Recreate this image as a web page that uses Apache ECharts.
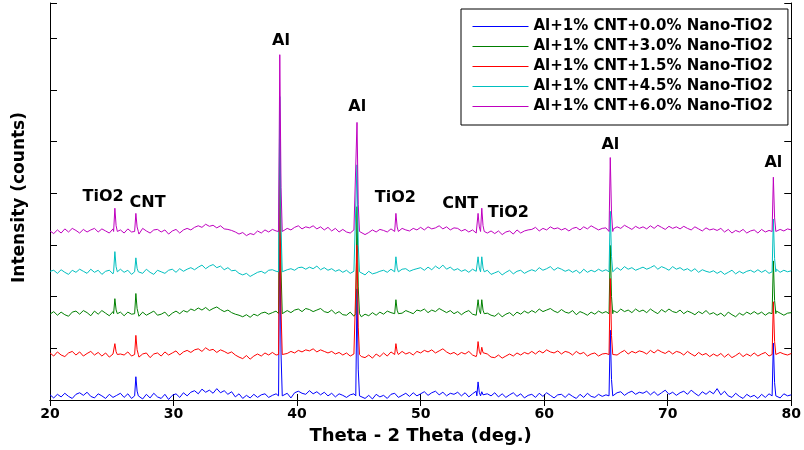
<!DOCTYPE html>
<html lang="en">

<head>
    <meta charset="UTF-8">
    <title>XRD</title>
    <style>
        html, body { margin: 0; padding: 0; background: #fff; }
        #main { width: 804px; height: 450px; }
    </style>
</head>

<body>
    <div id="main"></div>
    <script src="https://cdn.jsdelivr.net/npm/echarts@6/dist/echarts.min.js"></script>
    <script>
        // sample names, legend order (= draw order)
        const sampleNames = [
            "Al+1% CNT+0.0% Nano-TiO2",
            "Al+1% CNT+3.0% Nano-TiO2",
            "Al+1% CNT+1.5% Nano-TiO2",
            "Al+1% CNT+4.5% Nano-TiO2",
            "Al+1% CNT+6.0% Nano-TiO2"
        ];
        const sampleColors = ["#0000ff", "#008000", "#ff0000", "#00bfbf", "#bf00bf"];
        // vertical shift of each pattern (counts)
        const sampleOffsets = [8, 167, 88, 248, 326];

        // scan: 2theta from 20 to 80 deg, step 0.3
        const twoThetaStart = 20;
        const twoThetaStep = 0.3;

        // background (counts above the shifted baseline), one value per step
        const bgAl00 = [
            2, -4, 3, -2, 5, -1, -5, 3, 6, 1,
            7, -1, -4, 4, 0, -5, 3, -3, 1, 5,
            -3, 4, -5, 6, -1, -6, 3, -4, 5, -2,
            -5, 3, -7, 1, 4, -3, 6, 0, 7, 10,
            4, 13, 7, 11, 5, 14, 6, 10, 3, 8,
            -2, 4, -5, 1, -4, 3, -3, 2, 4, -3,
            1, 4, -2, 2, 5, -4, 6, 9, 5, 3,
            10, 4, 8, 2, 7, 0, 5, -2, 4, 1,
            -3, 2, 4, -3, 3, -5, 1, -6, 3, -2,
            1, -5, 3, 5, -3, 1, 5, -1, 6, 0,
            4, 8, 1, 6, 9, 2, 7, 0, 5, 3,
            7, 0, 6, -2, 4, 9, 5, -1, 4, 0,
            6, -2, 4, -3, 2, 6, -1, 4, -4, 1,
            3, -3, 5, -1, 6, 1, -4, 2, 3, -3,
            4, -1, -5, 3, -3, 5, -1, -3, 3, -1,
            2, 5, -1, 6, 8, 1, 6, 9, 3, 7,
            5, 9, 2, 8, 1, 6, 11, 3, 7, 1,
            6, 9, 3, 11, 5, 0, 8, 3, 9, 4,
            14, 2, 9, 0, -3, 5, -1, -5, 3, -2,
            1, -5, 3, -3, 4, -1, 2, -4, 4, 0,
            2
        ];
        const bgAl30 = [
            -1, 4, -3, 3, -2, -5, 3, 5, -1, 6,
            2, -4, 5, -1, 6, 1, -4, 4, -2, 3,
            -4, 3, -1, 5, -5, 3, -3, 1, 5, -3,
            -1, 3, -5, 1, 5, 0, 6, 3, 9, 6,
            11, 7, 12, 6, 10, 13, 8, 4, 7, 2,
            -1, -3, -6, -2, -7, -1, -4, 1, 3, -1,
            2, 5, -1, 3, 6, 2, 7, 9, 4, 10,
            8, 4, 7, 10, 4, 2, 7, 0, 4, -2,
            -3, 3, -5, 1, -6, -1, -4, 2, -3, 3,
            -1, 5, 2, -2, 5, 1, 6, 3, 0, 7,
            5, 9, 2, 7, 4, 10, 6, 2, 6, 0,
            4, -2, 3, 6, -1, -3, 3, -5, 1, -3,
            -5, 1, -6, -1, 2, -4, 3, -1, 5, 1,
            6, 2, 9, 4, 7, 10, 5, 2, 8, 3,
            1, 6, -2, 4, 1, -3, 3, -1, 5, 1,
            4, 0, 6, 2, 9, 4, 7, 2, 9, 4,
            7, 2, 9, 4, 0, 8, 3, 9, 4, 2,
            7, 0, 5, 2, -2, 4, 0, 6, -1, 2,
            -3, 1, -5, 3, -2, -6, 1, -3, 3, -1,
            4, -1, 3, -3, 2, -1, 5, 1, -3, 1,
            2
        ];
        const bgAl15 = [
            3, -3, 5, -1, -4, 3, 6, -1, 5, -3,
            2, 6, -1, 4, -3, 3, -5, 1, 5, 1,
            -1, 5, -3, 3, -5, 1, 3, -6, 1, 3,
            -3, 5, -1, 3, 7, -1, 5, 8, 4, 9,
            11, 6, 13, 8, 10, 4, 9, 6, 2, 5,
            -1, -5, -8, -2, -9, -3, 1, -3, 3, -1,
            4, -1, 3, -3, 2, 6, 3, 8, 5, 9,
            7, 11, 5, 9, 6, 3, 6, 1, 4, -1,
            3, -3, 1, 4, -4, -6, -1, -7, 1, -4,
            3, -3, 5, -1, 3, 6, 1, 4, -1, 6,
            3, 8, 5, 9, 3, 7, 11, 5, 1, 4,
            -1, 4, 1, 6, -1, -4, 3, -3, 1, -5,
            -6, -1, -7, -3, 1, -3, 3, -1, 4, 1,
            6, 1, 7, 3, 9, 5, 3, 7, 1, 6,
            4, -1, 6, 1, 4, -3, 1, 3, -3, 1,
            2, 6, 3, -1, 4, 8, 1, 6, 3, 7,
            5, 1, 8, 3, 9, 5, 2, 7, 1, 6,
            4, -1, 6, 1, -3, 4, -1, 2, -4, 1,
            -3, 2, -5, 1, -6, -2, 3, -4, 1, -3,
            3, -3, 1, 4, -3, 2, -1, 4, 1, -1,
            2
        ];
        const bgAl45 = [
            1, 3, -3, 4, -1, -5, 3, -1, 5, 1,
            -3, 5, -1, 3, -5, 1, 3, -4, 1, 5,
            -1, 3, -5, 3, -1, -3, 5, -1, -5, 3,
            0, -3, 3, 5, -1, 6, 1, 5, 8, 4,
            9, 13, 6, 11, 14, 8, 11, 4, 8, 2,
            3, -3, -6, -3, -9, -5, -1, 1, -3, 3,
            4, 1, -2, 3, 4, 6, 3, 8, 9, 5,
            9, 6, 11, 4, 8, 3, 6, 1, 4, -1,
            3, -3, 1, -5, -1, -6, 1, -4, -2, 1,
            3, -1, 5, 1, -2, 5, 6, 1, 4, 6,
            8, 3, 9, 4, 11, 6, 13, 5, 9, 3,
            6, 1, 4, -1, 5, 1, -3, 1, 3, -5,
            -2, 1, -6, -1, 3, -4, 1, 3, -3, 1,
            4, 1, 8, 3, 6, 10, 3, 8, 5, 1,
            4, -1, 3, -3, 5, -1, 3, 0, 5, 1,
            4, 6, 1, 8, 3, 10, 5, 8, 3, 6,
            9, 5, 8, 12, 5, 10, 7, 3, 10, 5,
            8, 3, 6, 1, 6, -1, 4, 1, -1, 2,
            -3, 1, -5, -1, 3, -4, 1, -3, 1, 3,
            -1, 4, -1, 3, -3, 2, 5, -1, 3, 0,
            2
        ];
        const bgAl60 = [
            1, -4, 3, -3, 5, -1, 6, 2, -3, 4,
            -1, 3, 6, -1, 5, 1, -3, 5, -1, 3,
            -3, 5, -1, 3, -5, 6, 1, -3, 3, 4,
            -1, 3, -5, 1, 4, -3, 3, 6, 3, 8,
            11, 8, 14, 10, 12, 7, 11, 5, 4, 2,
            -1, -5, -2, -8, -4, -6, 1, -3, 3, -1,
            4, 1, -1, 3, 6, 3, 8, 11, 5, 9,
            7, 11, 5, 9, 3, 8, 1, 6, -1, 4,
            -1, -3, 3, -5, 1, -6, -2, 3, -1, 4,
            2, -1, 5, 1, -2, 6, 3, 1, 6, 3,
            8, 3, 9, 5, 7, 11, 5, 9, 3, 7,
            6, 1, 4, -1, 3, -3, 1, 3, -3, 1,
            -4, 1, -6, -1, 1, -5, 3, -3, 1, 3,
            4, 8, 1, 6, 3, 9, 5, 7, 3, 6,
            1, 6, 8, 3, 9, 5, 11, 7, 3, 6,
            7, 11, 5, 9, 6, 12, 8, 4, 10, 6,
            9, 5, 11, 6, 12, 8, 4, 10, 6, 9,
            5, 10, 6, 3, 9, 5, 1, 7, 3, 5,
            2, 6, -1, 4, -3, 2, -1, 4, -3, 1,
            3, -3, 4, -1, 2, -3, 1, 4, 1, 5,
            3
        ];
        const backgrounds = [bgAl00, bgAl30, bgAl15, bgAl45, bgAl60];

        // reflections: 2theta position (deg) and peak height per sample (counts)
        const peakPos = [25.25, 26.95, 38.6, 44.85, 48.0, 54.65, 54.95, 65.35, 78.55];
        const peakAl00 = [0, 37, 332, 207, 0, 27, 8, 127, 102];
        const peakAl30 = [29, 39, 337, 207, 27, 27, 27, 132, 102];
        const peakAl15 = [21, 37, 337, 212, 21, 25, 14, 147, 102];
        const peakAl45 = [39, 27, 339, 207, 29, 29, 29, 117, 102];
        const peakAl60 = [45, 35, 342, 211, 35, 35, 45, 143, 105];
        const peakHeights = [peakAl00, peakAl30, peakAl15, peakAl45, peakAl60];
        // line profile of one reflection: [delta 2theta, fraction of height]
        const peakProfile = [[-0.1, 0], [0, 1], [0.1, 0.25], [0.2, 0]];

        // phase labels
        const labelText = ["Al", "Al", "TiO2", "CNT", "TiO2", "CNT", "TiO2", "Al", "Al"];
        const labelX = [38.7, 44.87, 24.3, 27.9, 47.95, 53.2, 57.1, 65.36, 78.55];
        const labelY = [695, 567, 393, 381, 391, 379, 362, 493, 459];

        const font = "DejaVu Sans";

        function buildPattern(bg, heights, offset) {
            let pts = [];
            bg.forEach(function (v, i) {
                let x = +(twoThetaStart + i * twoThetaStep).toFixed(2);
                let inPeak = peakPos.some(function (p, k) {
                    return heights[k] > 0 && x > p - 0.15 && x < p + 0.25;
                });
                if (!inPeak) pts.push([x, v + offset]);
            });
            peakPos.forEach(function (p, k) {
                if (heights[k] <= 0) return;
                peakProfile.forEach(function (pr) {
                    pts.push([+(p + pr[0]).toFixed(3), heights[k] * pr[1] + offset]);
                });
            });
            pts.sort(function (a, b) { return a[0] - b[0]; });
            return pts;
        }

        let series = sampleNames.map(function (name, s) {
            return {
                name: name,
                type: "line",
                symbol: "none",
                color: sampleColors[s],
                lineStyle: { width: 1, color: sampleColors[s] },
                data: buildPattern(backgrounds[s], peakHeights[s], sampleOffsets[s])
            };
        });

        series.push({
            name: "labels",
            type: "scatter",
            symbolSize: 0,
            silent: true,
            label: {
                show: true,
                position: "inside",
                formatter: "{b}",
                color: "#000",
                textBorderWidth: 0,
                opacity: 1,
                fontFamily: font,
                fontWeight: "bold",
                fontSize: 16
            },
            data: labelText.map(function (t, i) {
                return { name: t, value: [labelX[i], labelY[i]] };
            })
        });

        let myChart = echarts.init(document.getElementById("main"));
        let option = {
            animation: false,
            backgroundColor: "#fff",
            grid: { left: 50, right: 11, top: 3, bottom: 50 },
            legend: {
                data: sampleNames,
                orient: "vertical",
                left: 461,
                top: 9,
                itemWidth: 56,
                itemHeight: 14,
                itemGap: 5,
                padding: [10, 15, 11, 11],
                borderColor: "#000",
                borderWidth: 1,
                backgroundColor: "#fff",
                itemStyle: { opacity: 0 },
                lineStyle: { width: 1 },
                textStyle: { color: "#000", fontFamily: font, fontWeight: "bold", fontSize: 15 }
            },
            xAxis: [{
                type: "value",
                min: 20,
                max: 80,
                interval: 10,
                name: "Theta - 2 Theta (deg.)",
                nameLocation: "middle",
                nameGap: 27,
                nameTextStyle: { color: "#000", fontFamily: font, fontWeight: "bold", fontSize: 18 },
                axisLine: { lineStyle: { color: "#000", width: 1 } },
                axisTick: { inside: true, length: 6, lineStyle: { color: "#000" } },
                axisLabel: { margin: 7, color: "#000", fontFamily: font, fontWeight: "bold", fontSize: 14 },
                splitLine: { show: false }
            }, {
                type: "value",
                position: "top",
                min: 20,
                max: 80,
                interval: 10,
                axisLine: { lineStyle: { color: "#000", width: 1 } },
                axisTick: { inside: true, length: 6, lineStyle: { color: "#000" } },
                axisLabel: { show: false },
                splitLine: { show: false }
            }],
            yAxis: [{
                type: "value",
                min: 0,
                max: 768,
                interval: 100,
                name: "Intensity (counts)",
                nameLocation: "middle",
                nameGap: 22,
                nameTextStyle: { color: "#000", fontFamily: font, fontWeight: "bold", fontSize: 17, padding: [0, 0, 0, 8] },
                axisLine: { show: true, lineStyle: { color: "#000", width: 1 } },
                axisTick: { show: true, inside: true, length: 7, lineStyle: { color: "#000" } },
                axisLabel: { show: false },
                splitLine: { show: false }
            }, {
                type: "value",
                position: "right",
                min: 0,
                max: 768,
                interval: 100,
                axisLine: { show: true, lineStyle: { color: "#000", width: 1 } },
                axisTick: { show: true, inside: true, length: 7, lineStyle: { color: "#000" } },
                axisLabel: { show: false },
                splitLine: { show: false }
            }],
            series: series
        };
        myChart.setOption(option, true);
    </script>
</body>

</html>
